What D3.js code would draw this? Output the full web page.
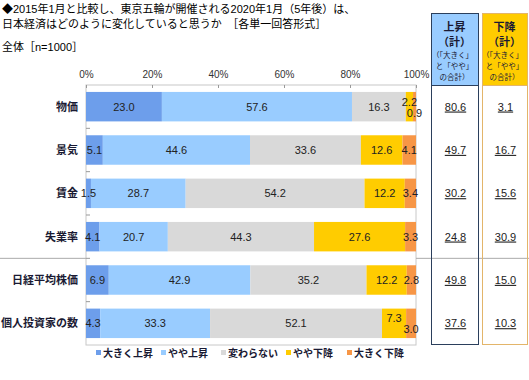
<!DOCTYPE html>
<html>
<head>
<meta charset="utf-8">
<script src="https://cdn.jsdelivr.net/npm/d3@7"></script>
<style>
  body { margin: 0; background: #fff; }
  svg { font-family: "Liberation Sans", "Noto Sans CJK JP", sans-serif; }
</style>
</head>
<body>
<div id="chart"></div>
<script>
// categories and series
const categories = ["物価", "景気", "賃金", "失業率", "日経平均株価", "個人投資家の数"];
const seriesNames = ["大きく上昇", "やや上昇", "変わらない", "やや下降", "大きく下降"];
const bigUp = [23.0, 5.1, 1.5, 4.1, 6.9, 4.3];
const someUp = [57.6, 44.6, 28.7, 20.7, 42.9, 33.3];
const noChange = [16.3, 33.6, 54.2, 44.3, 35.2, 52.1];
const someDown = [2.2, 12.6, 12.2, 27.6, 12.2, 7.3];
const bigDown = [0.9, 4.1, 3.4, 3.3, 2.8, 3.0];
const upTotal = ["80.6", "49.7", "30.2", "24.8", "49.8", "37.6"];
const downTotal = ["3.1", "16.7", "15.6", "30.9", "15.0", "10.3"];
const tickValues = [0, 20, 40, 60, 80, 100];

const colors = ["#6d9eeb", "#99ccff", "#d9d9d9", "#ffcc00", "#f79646"];

let w = 529, h = 380;

let svg = d3.select("#chart")
            .append("svg")
            .attr("width", w)
            .attr("height", h);

// title
svg.append("text").attr("x", 2).attr("y", 13).attr("font-size", 11)
   .text("◆2015年1月と比較し、東京五輪が開催される2020年1月（5年後）は、");
svg.append("text").attr("x", 2).attr("y", 28).attr("font-size", 11)
   .text("日本経済はどのように変化していると思うか　［各単一回答形式］");
svg.append("text").attr("x", 2).attr("y", 51).attr("font-size", 11)
   .text("全体［n=1000］");

let x = d3.scaleLinear().domain([0, 100]).range([86, 416]);
let y = d3.scaleBand().domain(categories).range([85, 345]).paddingInner(0.32).paddingOuter(0.16);

// build stacked rows from the named arrays
let rows = categories.map((c, i) => {
  let vals = [bigUp[i], someUp[i], noChange[i], someDown[i], bigDown[i]];
  let start = 0;
  return vals.map((v, k) => {
    let seg = { cat: c, k: k, v: v, x0: start, x1: start + v, row: i };
    start += v;
    return seg;
  });
});

// plot frame
svg.append("rect")
   .attr("x", x(0)).attr("y", 85)
   .attr("width", x(100) - x(0)).attr("height", 260)
   .attr("fill", "none").attr("stroke", "#c8c8c8");

// top axis
let axis = svg.append("g")
   .attr("transform", `translate(0,85)`)
   .call(d3.axisTop(x).tickValues(tickValues).tickSize(-3).tickPadding(7).tickFormat(d => d + "%"));
axis.select(".domain").remove();
axis.selectAll("line").attr("stroke", "#999");
axis.selectAll("text").attr("font-size", 10).attr("fill", "#333").attr("font-family", "Liberation Sans, sans-serif");

// left ticks at band boundaries
d3.range(1, categories.length).forEach(i => {
  let yy = 85 + i * (260 / categories.length);
  svg.append("line")
     .attr("x1", x(0)).attr("x2", x(0) + 4)
     .attr("y1", yy).attr("y2", yy)
     .attr("stroke", "#999");
});

// separator between groups
let sepY = 85 + 4 * (260 / categories.length);
svg.append("line").attr("x1", 0).attr("x2", x(0)).attr("y1", sepY).attr("y2", sepY).attr("stroke", "#aaa");
svg.append("line").attr("x1", x(100)).attr("x2", w).attr("y1", sepY).attr("y2", sepY).attr("stroke", "#aaa");

// bars
let rowG = svg.selectAll(".row")
   .data(rows)
   .enter()
   .append("g")
   .attr("class", "row");

rowG.selectAll("rect")
   .data(d => d)
   .enter()
   .append("rect")
   .attr("x", d => x(d.x0))
   .attr("y", d => y(d.cat))
   .attr("width", d => x(d.x1) - x(d.x0))
   .attr("height", y.bandwidth())
   .attr("fill", d => colors[d.k]);

// value labels (stagger the last two when both are thin)
rowG.selectAll("text")
   .data(d => d)
   .enter()
   .append("text")
   .attr("x", d => x((d.x0 + d.x1) / 2))
   .attr("y", d => {
     let cy = y(d.cat) + y.bandwidth() / 2;
     let stagger = someDown[d.row] < 10;
     if (stagger && d.k == 3) return cy - 5;
     if (stagger && d.k == 4) return cy + 6;
     return cy;
   })
   .attr("dy", "0.35em")
   .attr("text-anchor", "middle")
   .attr("font-size", 11)
   .attr("fill", "#222")
   .text(d => d.v.toFixed(1));

// category labels
svg.selectAll(".cat")
   .data(categories)
   .enter()
   .append("text")
   .attr("class", "cat")
   .attr("x", 78)
   .attr("y", d => y(d) + y.bandwidth() / 2)
   .attr("dy", "0.35em")
   .attr("text-anchor", "end")
   .attr("font-size", 11)
   .attr("font-weight", "bold")
   .attr("font-family", "Noto Sans CJK JP, sans-serif")
   .attr("fill", "#1a1a33")
   .text(d => d);

// right summary boxes
let boxes = [
  { left: 431, right: 478, fill: "#99ccff", stroke: "#2b3f5c", head: "上昇", vals: upTotal },
  { left: 482, right: 527, fill: "#ffcc00", stroke: "#e3b56a", head: "下降", vals: downTotal }
];

boxes.forEach(b => {
  let cx = (b.left + b.right) / 2;
  svg.append("rect")
     .attr("x", b.left + 0.5).attr("y", 13.5)
     .attr("width", b.right - b.left).attr("height", 72)
     .attr("fill", b.fill);
  svg.append("rect")
     .attr("x", b.left + 0.5).attr("y", 13.5)
     .attr("width", b.right - b.left).attr("height", 331)
     .attr("fill", "none").attr("stroke", b.stroke);
  svg.append("line")
     .attr("x1", b.left).attr("x2", b.right + 1)
     .attr("y1", 85.5).attr("y2", 85.5)
     .attr("stroke", b.stroke);

  let g = svg.append("g").attr("font-family", "Noto Sans CJK JP, sans-serif").attr("fill", "#1a1a33").attr("text-anchor", "middle");
  g.append("text").attr("x", cx).attr("y", 31).attr("font-size", 11).attr("font-weight", "bold").text(b.head);
  g.append("text").attr("x", cx).attr("y", 46).attr("font-size", 11).attr("font-weight", "bold").text("（計）");
  g.append("text").attr("x", cx - 2).attr("y", 58).attr("font-size", 7.5).text("（「大きく」");
  g.append("text").attr("x", cx).attr("y", 69).attr("font-size", 7.5).text("と「やや」");
  g.append("text").attr("x", cx).attr("y", 80).attr("font-size", 7.5).text("の合計）");

  svg.selectAll(null)
     .data(b.vals)
     .enter()
     .append("text")
     .attr("x", cx + 1)
     .attr("y", (d, i) => y(categories[i]) + y.bandwidth() / 2)
     .attr("dy", "0.35em")
     .attr("text-anchor", "middle")
     .attr("font-size", 11)
     .attr("fill", "#222")
     .style("text-decoration", "underline")
     .text(d => d);
});

// legend
let legendX = [96, 161, 221, 286, 347];
let legend = svg.selectAll(".legend")
   .data(seriesNames)
   .enter()
   .append("g")
   .attr("class", "legend")
   .attr("transform", (d, i) => `translate(${legendX[i]},353)`);
legend.append("rect").attr("x", 0).attr("y", -3).attr("width", 5).attr("height", 5)
      .attr("fill", (d, i) => colors[i]);
legend.append("text").attr("x", 7).attr("dy", "0.35em")
      .attr("font-size", 10).attr("font-weight", "bold")
      .attr("font-family", "Noto Sans CJK JP, sans-serif")
      .attr("fill", "#1a1a33")
      .text(d => d);
</script>
</body>
</html>
